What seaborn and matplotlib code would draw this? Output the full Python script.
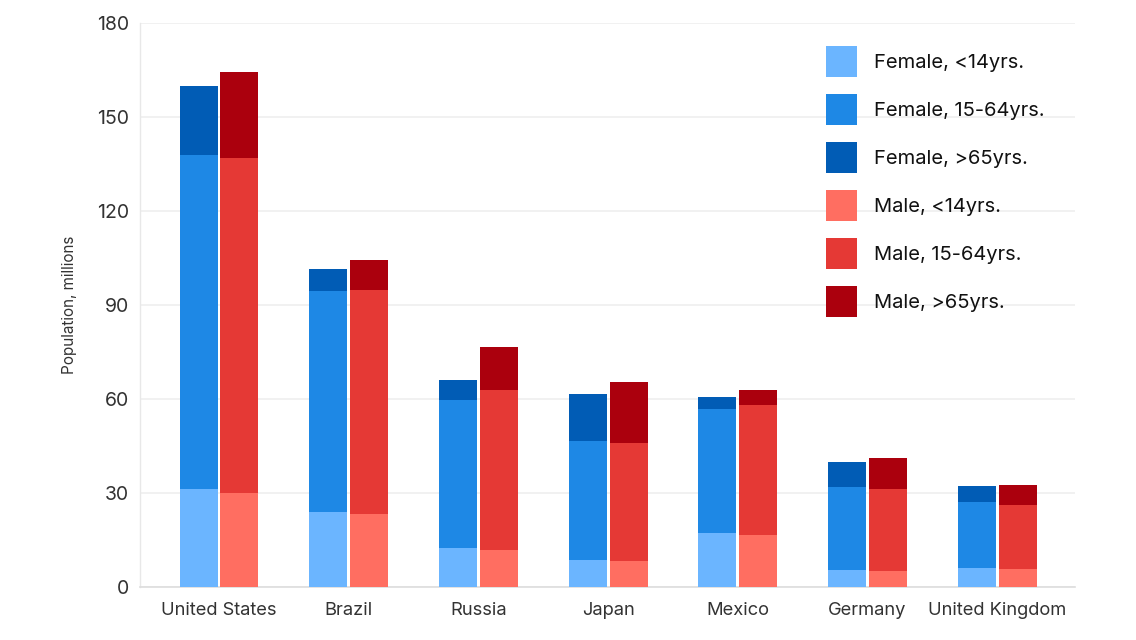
import matplotlib
matplotlib.use("Agg")
import matplotlib.pyplot as plt
from matplotlib.patches import Patch
import numpy as np
import pandas as pd
import seaborn as sns

# Population by country, sex and age group (millions)
countries = ["United States", "Brazil", "Russia", "Japan", "Mexico", "Germany", "United Kingdom"]
female_under14 = [31.3, 23.9, 12.4, 8.6, 17.2, 5.4, 6.1]
female_15_64 = [106.6, 70.6, 47.3, 38.0, 39.6, 26.5, 21.0]
female_over65 = [22.0, 7.0, 6.4, 15.0, 3.8, 8.0, 5.1]
male_under14 = [30.0, 23.3, 11.8, 8.3, 16.6, 5.1, 5.7]
male_15_64 = [107.0, 71.5, 51.1, 37.7, 41.5, 26.2, 20.5]
male_over65 = [27.4, 9.6, 13.7, 19.4, 4.8, 9.9, 6.4]

yticks = [0, 30, 60, 90, 120, 150, 180]

female_colors = ["#6bb5ff", "#1e88e5", "#015cb5"]
male_colors = ["#ff6e61", "#e53935", "#ab000d"]
labels = ["Female, <14yrs.", "Female, 15-64yrs.", "Female, >65yrs.",
          "Male, <14yrs.", "Male, 15-64yrs.", "Male, >65yrs."]

sns.set_theme(style="white")
plt.rcParams["font.family"] = ["Inter", "DejaVu Sans"]

# cumulative tops for stacking (draw tallest first, overlay smaller ones)
f = np.cumsum([female_under14, female_15_64, female_over65], axis=0)
m = np.cumsum([male_under14, male_15_64, male_over65], axis=0)

fig = plt.figure(figsize=(11.36, 6.4), dpi=100)
ax = fig.add_axes([140 / 1136, 1 - 587 / 640, (1075 - 140) / 1136, (587 - 23) / 640])

for level in [2, 1, 0]:
    df = pd.DataFrame({
        "Country": countries * 2,
        "Sex": ["Female"] * len(countries) + ["Male"] * len(countries),
        "Value": list(f[level]) + list(m[level]),
    })
    sns.barplot(
        data=df, x="Country", y="Value", hue="Sex", order=countries,
        hue_order=["Female", "Male"],
        palette=[female_colors[level], male_colors[level]],
        width=0.632, gap=0.073, linewidth=0, saturation=1,
        legend=False, ax=ax, zorder=3,
    )

ax.set_xlim((140 - 219) / 129.7, (1075 - 219) / 129.7)
ax.set_ylim(0, 180)
ax.set_yticks(yticks)
ax.grid(axis="y", color="#efefef", linewidth=1.2, zorder=0)
ax.set_axisbelow(True)
for s in ["top", "right"]:
    ax.spines[s].set_visible(False)
ax.spines["left"].set_color("#e8e8e8")
ax.spines["bottom"].set_color("#dddddd")
ax.spines["left"].set_linewidth(1)
ax.spines["bottom"].set_linewidth(1.2)
ax.tick_params(axis="y", length=0, labelsize=14, colors="#333333", pad=8)
ax.tick_params(axis="x", length=0, labelsize=13.2, colors="#333333", pad=11)
ax.set_xlabel("")
ax.set_ylabel("Population, millions", fontsize=11, color="#333333", labelpad=14)

fs = 14.5
fs_px = fs * 100 / 72
sq = 31 / fs_px
handles = [Patch(facecolor=c, edgecolor="none") for c in female_colors + male_colors]
fig.legend(
    handles, labels, loc="upper left", bbox_to_anchor=(826 / 1136, 1 - 46 / 640),
    frameon=False, fontsize=fs, handlelength=sq, handleheight=(sq - 0.245) / 0.65,
    labelspacing=17 / fs_px, handletextpad=17 / fs_px, borderpad=0, borderaxespad=0,
    labelcolor="#111111",
)

fig.savefig("out.png", dpi=100)
